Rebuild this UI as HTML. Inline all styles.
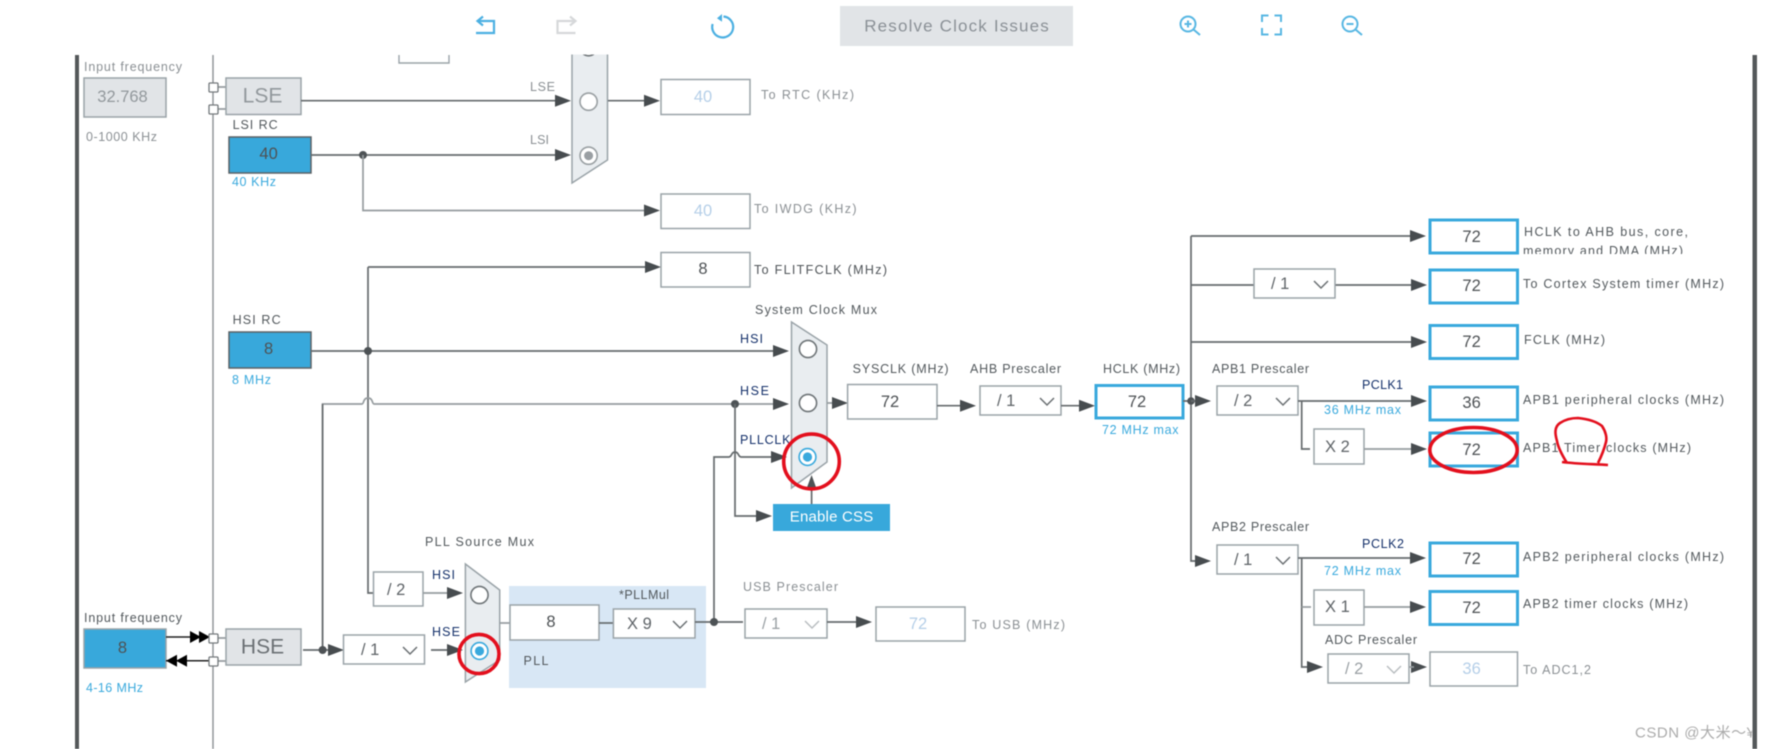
<!DOCTYPE html>
<html><head><meta charset="utf-8"><style>
html,body{margin:0;padding:0;background:#fff;width:1767px;height:749px;overflow:hidden}
svg{display:block;filter:blur(.55px)}
text{font-family:"Liberation Sans","Noto Sans CJK SC",sans-serif;dominant-baseline:central}
.l{font-size:12.5px;fill:#53595d}
.g{font-size:12.5px;fill:#8b9094}
.b{font-size:12.5px;fill:#39a9dd}
.n{font-size:12.5px;fill:#14306a}
.v{font-size:16.5px;fill:#4e5255;text-anchor:middle}
.d{font-size:16.5px;fill:#b5cfe8;text-anchor:middle}
.s{font-size:16.5px;fill:#5f6468}
.sd{font-size:16.5px;fill:#9aa0a4}
.ln{fill:none;stroke:#666b6e;stroke-width:1.7}
.lg{fill:none;stroke:#969c9f;stroke-width:1.7}
.box{fill:#fff;stroke:#9aa3a8;stroke-width:1.5}
.blu{fill:#fff;stroke:#39a9dd;stroke-width:3}
.osc{fill:#38a8db;stroke:#5b6266;stroke-width:1.5}
.gb{fill:#e1e4e7;stroke:#9aa3a8;stroke-width:1.5}
.mux{fill:#e9edf0;stroke:#9aa3a8;stroke-width:1.5}
.r0{fill:#fff;stroke:#6f7578;stroke-width:1.6}
.ch{fill:none;stroke:#6b7073;stroke-width:1.5}
.chd{fill:none;stroke:#b9bec1;stroke-width:1.5}
.red{fill:none;stroke:#e30f1d;stroke-width:3.6}
.ic{fill:none;stroke:#58b7e3;stroke-width:2}
</style></head><body>
<svg xmlns="http://www.w3.org/2000/svg" width="1767" height="749" viewBox="0 0 1767 749">
<defs>
<polygon id="a" points="-16,-6 0,0 -16,6" fill="#474c4f"/>
<polygon id="k" points="-11,-6 0,0 -11,6" fill="#000"/>
<polygon id="kl" points="11,-6 0,0 11,6" fill="#000"/>
<clipPath id="c1"><rect x="1520" y="220" width="200" height="34"/></clipPath>
<clipPath id="c2"><rect x="1600" y="700" width="152" height="49"/></clipPath>
</defs>
<rect width="1767" height="749" fill="#fff"/>

<!-- frame -->
<rect x="75" y="55" width="4" height="694" fill="#54585a"/>
<rect x="1752.5" y="55" width="4.5" height="694" fill="#54585a"/>
<line x1="213" y1="55" x2="213" y2="749" stroke="#8b9093" stroke-width="1.4"/>
<path d="M399 55V63H449V55" fill="none" stroke="#9aa3a8" stroke-width="1.4"/>

<!-- LSE input -->
<text class="g" x="84" y="67" textLength="98">Input frequency</text>
<rect class="gb" x="84" y="78" width="82" height="39"/>
<text class="v" x="122.5" y="97" style="fill:#92989c">32.768</text>
<text class="g" x="86" y="137" textLength="71">0-1000 KHz</text>
<path d="M218 87H226M218 109H226" class="lg"/>
<rect x="209" y="83" width="9" height="9" rx="1" fill="#fff" stroke="#73787b" stroke-width="1.3"/>
<rect x="209" y="105" width="9" height="9" rx="1" fill="#fff" stroke="#73787b" stroke-width="1.3"/>
<rect class="gb" x="226" y="78" width="75" height="36.5"/>
<text x="262.5" y="96" text-anchor="middle" style="font-size:21px;fill:#92989c">LSE</text>

<!-- LSI -->
<text class="l" x="232.6" y="125" textLength="45">LSI RC</text>
<rect class="osc" x="229" y="137" width="82" height="36"/>
<text class="v" x="268.6" y="154">40</text>
<text class="b" x="232" y="182" textLength="44">40 KHz</text>
<path class="ln" d="M301 100.7H560M311 155H560"/>
<use href="#a" x="571" y="100.7"/><use href="#a" x="571" y="155"/>
<circle cx="363" cy="155" r="4" fill="#4d5255"/>
<text class="g" x="530" y="87" textLength="25">LSE</text>
<text class="g" x="530" y="140" textLength="19">LSI</text>
<path class="lg" d="M363 155V210.5H650"/>
<use href="#a" x="660" y="210.5"/>

<!-- RTC mux -->
<polygon class="mux" points="572,40 607.5,40 607.5,160 572,183"/>
<circle class="r0" cx="588.6" cy="47" r="8.8"/>
<circle class="r0" cx="588.6" cy="101.7" r="8.6" style="stroke:#9aa0a3"/>
<circle class="r0" cx="588.6" cy="155.7" r="8.6" style="stroke:#9aa0a3"/>
<circle cx="588.6" cy="155.7" r="4.5" fill="#9a9fa3"/>
<path class="ln" d="M608 100.7H650"/><use href="#a" x="660" y="100.7"/>
<rect class="box" x="661" y="79.5" width="89" height="35"/>
<text class="d" x="703" y="97">40</text>
<text class="g" x="761" y="95" textLength="93">To RTC (KHz)</text>
<rect class="box" x="661" y="194" width="89" height="34.5"/>
<text class="d" x="703" y="211">40</text>
<text class="g" x="754" y="209" textLength="102.6">To IWDG (KHz)</text>

<!-- HSI / FLITF -->
<text class="l" x="232.6" y="320" textLength="48">HSI RC</text>
<rect class="osc" x="229" y="332" width="82" height="36"/>
<text class="v" x="268.6" y="349">8</text>
<text class="b" x="232" y="380" textLength="39">8 MHz</text>
<path class="ln" d="M311 351H778"/>
<path class="ln" d="M368 267H650M368 267V593H373.5"/>
<circle cx="368" cy="351" r="4" fill="#4d5255"/>
<use href="#a" x="661" y="267"/>
<rect class="box" x="661" y="252.5" width="89" height="34.5"/>
<text class="v" x="703" y="269">8</text>
<text class="l" x="754" y="270" textLength="133" style="fill:#4f5458">To FLITFCLK (MHz)</text>
<text class="n" x="740" y="339" textLength="23">HSI</text>
<use href="#a" x="789" y="351"/>

<!-- HSE route -->
<path class="lg" d="M322.6 650V404H362M374 404H778"/>
<path class="ln" d="M322.6 650V404"/>
<path class="lg" d="M362 404C364 404 363 398 368 398C373 398 372 404 374 404"/>
<circle cx="735" cy="404" r="4" fill="#4d5255"/>
<use href="#a" x="789" y="404"/>
<text class="n" x="740" y="391" textLength="29">HSE</text>
<path class="ln" d="M735 404V516H762"/>
<use href="#a" x="772" y="516"/>
<path class="ln" d="M714 622V457H729C732 457 731 452 735 452C739 452 738 457 741 457H776"/>
<use href="#a" x="787" y="457"/>

<!-- System clock mux -->
<text class="l" x="755" y="310" textLength="122">System Clock Mux</text>
<polygon class="mux" points="791.5,322 827,345 827,462 791.5,488"/>
<text class="n" x="740" y="440" textLength="50.5">PLLCLK</text>
<circle class="r0" cx="808" cy="349" r="8.6"/>
<circle class="r0" cx="808" cy="403" r="8.6"/>
<circle cx="807.5" cy="457" r="8.4" fill="#fff" stroke="#39a9dd" stroke-width="1.6"/>
<circle cx="807.5" cy="457" r="4.6" fill="#39a9dd"/>
<path class="ln" d="M811.6 504V488"/>
<polygon points="811.6,475 817,490 806,490" fill="#4d5255"/>
<rect x="773" y="504" width="117" height="27" fill="#38a8db"/>
<text x="831.5" y="517" text-anchor="middle" textLength="83.5" style="font-size:15px;fill:#fff">Enable CSS</text>

<!-- SYSCLK chain -->
<path class="lg" d="M827 403H838"/><use href="#a" x="848" y="403"/>
<rect class="box" x="847.6" y="384.5" width="89.4" height="34.5"/>
<text class="v" x="890" y="402">72</text>
<text class="l" x="852.6" y="369" textLength="96">SYSCLK (MHz)</text>
<text class="l" x="970" y="369" textLength="91">AHB Prescaler</text>
<text class="l" x="1103" y="369" textLength="77">HCLK (MHz)</text>
<path class="ln" d="M937 405.7H965"/><use href="#a" x="976" y="405.7"/>
<rect class="box" x="980" y="386" width="81" height="29"/>
<text class="s" x="997" y="401">/ 1</text>
<path class="ch" d="M1040 398L1047 405L1054 398"/>
<path class="ln" d="M1061 405.7H1085"/><use href="#a" x="1095" y="405.7"/>
<rect class="blu" x="1096" y="385.5" width="87" height="32.5"/>
<text class="v" x="1137" y="402">72</text>
<text class="b" x="1102" y="430" textLength="76.5">72 MHz max</text>

<!-- HCLK bus -->
<path class="ln" d="M1183 401H1191M1191 236V561H1200M1191 236H1415M1191 285H1254M1335 285H1415M1191 342H1415"/>
<circle cx="1191" cy="401" r="3.8" fill="#4d5255"/>
<use href="#a" x="1426" y="236"/><use href="#a" x="1427" y="285"/><use href="#a" x="1427" y="342"/>
<rect class="blu" x="1430" y="220" width="87.5" height="33"/>
<text class="v" x="1471.6" y="237">72</text>
<rect class="blu" x="1430" y="270" width="87.5" height="33"/>
<text class="v" x="1471.6" y="286">72</text>
<rect class="blu" x="1430" y="325.5" width="87.5" height="33"/>
<text class="v" x="1471.6" y="342">72</text>
<rect class="box" x="1254" y="269" width="81" height="29"/>
<text class="s" x="1271" y="284">/ 1</text>
<path class="ch" d="M1314 281L1321 288L1328 281"/>
<text class="l" x="1524" y="232" textLength="164">HCLK to AHB bus, core,</text>
<g clip-path="url(#c1)"><text class="l" x="1523" y="251" textLength="160">memory and DMA (MHz)</text></g>
<text class="l" x="1523" y="284" textLength="201">To Cortex System timer (MHz)</text>
<text class="l" x="1524" y="340" textLength="81">FCLK (MHz)</text>

<!-- APB1 -->
<text class="l" x="1212" y="369" textLength="97">APB1 Prescaler</text>
<path class="ln" d="M1191 401H1200"/><use href="#a" x="1211" y="401"/>
<rect class="box" x="1217" y="386" width="81" height="29"/>
<text class="s" x="1234" y="401">/ 2</text>
<path class="ch" d="M1276 398L1283 405L1290 398"/>
<path class="ln" d="M1298 401H1416"/><use href="#a" x="1427" y="401"/>
<text class="n" x="1362" y="385" textLength="41">PCLK1</text>
<text class="b" x="1324" y="410" textLength="77">36 MHz max</text>
<rect class="blu" x="1430" y="387" width="87.5" height="33"/>
<text class="v" x="1471.6" y="403">36</text>
<path class="ln" d="M1301.7 401V449H1310"/>
<rect class="box" x="1314" y="429" width="50" height="35"/>
<text class="s" x="1325" y="447">X 2</text>
<path class="lg" d="M1364 449H1416"/><use href="#a" x="1427" y="449"/>
<rect class="blu" x="1430" y="433" width="87.5" height="33"/>
<text class="v" x="1471.6" y="450">72</text>
<text class="l" x="1523" y="400" textLength="201">APB1 peripheral clocks (MHz)</text>
<text class="l" x="1523" y="448" textLength="168">APB1 Timer clocks (MHz)</text>

<!-- APB2 -->
<text class="l" x="1212" y="527" textLength="97">APB2 Prescaler</text>
<use href="#a" x="1211" y="561"/>
<rect class="box" x="1217" y="545" width="81" height="29"/>
<text class="s" x="1234" y="560">/ 1</text>
<path class="ch" d="M1276 557L1283 564L1290 557"/>
<path class="ln" d="M1298 558H1415"/><use href="#a" x="1426" y="558"/>
<text class="n" x="1362" y="544" textLength="42">PCLK2</text>
<text class="b" x="1324" y="571" textLength="77">72 MHz max</text>
<rect class="blu" x="1430" y="543" width="87.5" height="33"/>
<text class="v" x="1471.6" y="559">72</text>
<path class="ln" d="M1301.7 558V667H1312"/><path class="lg" d="M1301.7 607H1311"/>
<use href="#a" x="1323" y="667"/>
<rect class="box" x="1314" y="590" width="50" height="35"/>
<text class="s" x="1325" y="607">X 1</text>
<path class="lg" d="M1364 607H1415"/><use href="#a" x="1426" y="607"/>
<rect class="blu" x="1430" y="591.5" width="87.5" height="33"/>
<text class="v" x="1471.6" y="608">72</text>
<text class="l" x="1523" y="557" textLength="201">APB2 peripheral clocks (MHz)</text>
<text class="l" x="1523" y="604" textLength="165">APB2 timer clocks (MHz)</text>
<text class="l" x="1325" y="640" textLength="92">ADC Prescaler</text>
<rect class="box" x="1328" y="654" width="81" height="29"/>
<text class="sd" x="1345" y="669">/ 2</text>
<path class="chd" d="M1387 666L1394 673L1401 666"/>
<use href="#a" x="1427" y="667"/><path class="lg" d="M1409 667H1414"/>
<rect class="box" x="1430" y="652" width="87.5" height="34"/>
<text class="d" x="1471.6" y="669">36</text>
<text class="g" x="1523" y="670" textLength="68">To ADC1,2</text>

<!-- HSE input -->
<text class="l" x="84" y="618" textLength="98">Input frequency</text>
<rect class="osc" x="84" y="629" width="82" height="39" style="stroke:#9aa3a8"/>
<text class="v" x="122.5" y="648">8</text>
<text class="b" x="86" y="688" textLength="57">4-16 MHz</text>
<path d="M166 637H209M166 660.7H209" stroke="#222" stroke-width="1.5"/>
<use href="#k" x="201" y="637"/><use href="#k" x="210" y="637"/>
<use href="#kl" x="166" y="660.7"/><use href="#kl" x="176" y="660.7"/>
<path class="lg" d="M218 638H226M218 661H226"/>
<rect x="209" y="634" width="9" height="9" rx="1" fill="#fff" stroke="#73787b" stroke-width="1.3"/>
<rect x="209" y="657" width="9" height="9" rx="1" fill="#fff" stroke="#73787b" stroke-width="1.3"/>
<rect class="gb" x="226" y="629" width="75" height="36"/>
<text x="262.5" y="647" text-anchor="middle" style="font-size:21px;fill:#6b7074">HSE</text>
<path class="ln" d="M303 650H332"/>
<circle cx="322.6" cy="650" r="4" fill="#4d5255"/>
<use href="#a" x="344" y="650"/>
<rect class="box" x="343.5" y="635" width="81" height="29"/>
<text class="s" x="361" y="650">/ 1</text>
<path class="ch" d="M403 647L410 654L417 647"/>
<path class="ln" d="M431 650H450"/><use href="#a" x="463" y="650"/>

<!-- PLL section -->
<rect x="509" y="586" width="197" height="102" fill="#d8e7f5"/>
<rect x="373.5" y="572" width="49.5" height="34" fill="#fff" stroke="#9aa3a8" stroke-width="1.5"/>
<text class="s" x="387" y="590">/ 2</text>
<path class="lg" d="M423 593H450"/><use href="#a" x="463" y="593"/>
<text class="l" x="425" y="542" textLength="109">PLL Source Mux</text>
<text class="n" x="432" y="575" textLength="23">HSI</text>
<text class="n" x="432" y="632" textLength="28">HSE</text>
<polygon class="mux" points="465.4,564 499.7,590 499.7,660 465.4,682"/>
<circle class="r0" cx="479.5" cy="595" r="8.6"/>
<circle cx="479.5" cy="651" r="8.4" fill="#fff" stroke="#39a9dd" stroke-width="1.6"/>
<circle cx="479.5" cy="651" r="4.6" fill="#39a9dd"/>
<path class="lg" d="M500 623H510"/>
<rect class="box" x="510" y="605" width="89" height="35"/>
<text class="v" x="551" y="622">8</text>
<text class="l" x="523.5" y="661" textLength="25">PLL</text>
<text class="l" x="619" y="595" textLength="50">*PLLMul</text>
<path class="ln" d="M599 623H613"/>
<rect class="box" x="613.4" y="609" width="81.6" height="29"/>
<text class="s" x="627" y="624">X 9</text>
<path class="ch" d="M673 621L680 628L687 621"/>
<path class="ln" d="M695 622H743"/>
<circle cx="714" cy="622" r="4" fill="#4d5255"/>
<text class="g" x="743" y="587" textLength="95">USB Prescaler</text>
<rect class="box" x="745" y="609" width="82" height="29"/>
<text class="sd" x="762" y="624">/ 1</text>
<path class="chd" d="M805 621L812 628L819 621"/>
<path class="ln" d="M827 622H860"/><use href="#a" x="872" y="622"/>
<rect class="box" x="876" y="607" width="89" height="34"/>
<text class="d" x="918" y="624">72</text>
<text class="g" x="972" y="625" textLength="93">To USB (MHz)</text>

<!-- red annotations -->
<ellipse class="red" cx="479" cy="654" rx="20" ry="19.6"/>
<ellipse class="red" cx="811.5" cy="461.5" rx="27.8" ry="27.4"/>
<ellipse class="red" cx="1473.5" cy="450" rx="43.7" ry="22.5"/>
<path class="red" style="stroke-width:2.6" d="M1567 463C1562 455 1558 447 1557 441C1555 434 1554 427 1560 423C1566 419 1572 418 1578 418C1588 419 1597 422 1602 426C1606 432 1607 438 1606 442C1604 450 1601 457 1598 463M1562 462C1578 464 1594 464 1608 465"/>

<!-- watermark -->
<g clip-path="url(#c2)"><text x="1635" y="733" textLength="120" style="font-size:15px;fill:#ababab">CSDN @大米～¥</text></g>

<!-- toolbar -->
<rect x="0" y="0" width="1767" height="54.5" fill="#fff"/>
<rect x="840" y="6" width="233" height="40" fill="#e1e4e7"/>
<text x="956.5" y="26" text-anchor="middle" textLength="184.5" style="font-size:17px;fill:#8a9096">Resolve Clock Issues</text>
<path d="M478 21H494V33H476" fill="none" stroke="#4cb0e2" stroke-width="2.2"/>
<path d="M483 16.5L477.5 21L483 25.5" fill="none" stroke="#4cb0e2" stroke-width="2.2"/>
<path d="M575 21H557.5V33H575.5" fill="none" stroke="#d6d8da" stroke-width="2.2"/>
<path d="M570 16.5L575.5 21L570 25.5" fill="none" stroke="#d6d8da" stroke-width="2.2"/>
<path d="M723.5 16.5A10.5 10.5 0 1 1 712.6 24" fill="none" stroke="#4cb0e2" stroke-width="2.2"/>
<polygon points="722,14 717,18.3 722,21.7" fill="#4cb0e2"/>
<circle class="ic" cx="1188" cy="24" r="7.5"/><path class="ic" d="M1193.5 29.5L1200 35M1184.5 24H1191.5M1188 20.5V27.5"/>
<path class="ic" d="M1262 22V15.5H1268.5M1274.5 15.5H1281V22M1281 28V34.5H1274.5M1268.5 34.5H1262V28"/>
<circle class="ic" cx="1350" cy="24" r="7.5"/><path class="ic" d="M1355.5 29.5L1362 35M1346.5 24H1353.5"/>
</svg>
</body></html>
